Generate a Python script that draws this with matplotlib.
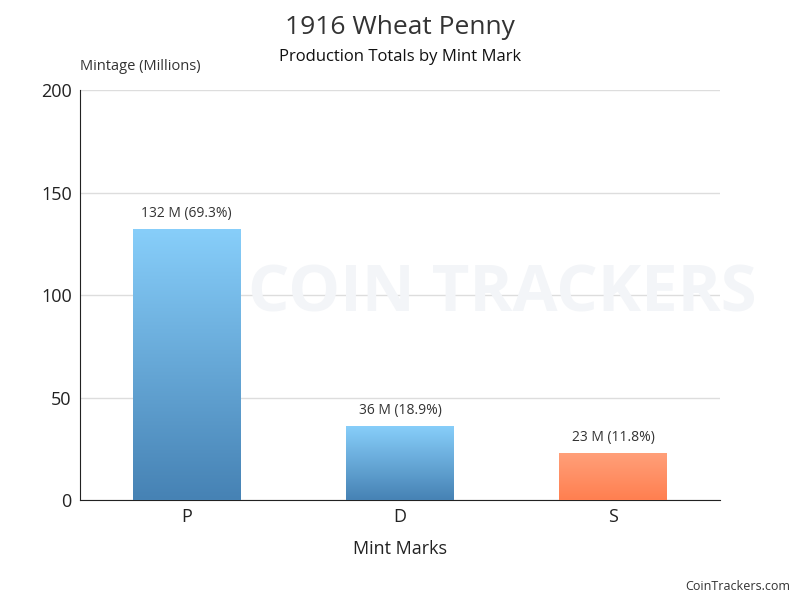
import matplotlib
matplotlib.use("Agg")
import matplotlib.pyplot as plt
import numpy as np
from matplotlib.colors import LinearSegmentedColormap

plt.rcParams['font.family'] = ['Open Sans', 'DejaVu Sans']

categories = ["P", "D", "S"]
values = [132, 36, 23]
labels = ["132 M (69.3%)", "36 M (18.9%)", "23 M (11.8%)"]
top_colors = ["#87CEFA", "#87CEFA", "#FFA07A"]
bottom_colors = ["#4682B4", "#4682B4", "#FF7F50"]

fig = plt.figure(figsize=(8, 6), dpi=100)
ax = fig.add_axes([0.1, 1 - 500/600, 0.8, 410/600])

# watermark
fig.text(0.31, 0.508, "COIN TRACKERS", fontsize=47, fontweight='bold', color='#f3f5f8',
         ha='left', va='center', zorder=0)

x = np.arange(len(categories))
bars = ax.bar(x, values, width=0.506, color='none', zorder=3)
ax.set_xlim(-0.5, len(categories) - 0.5)
ax.set_ylim(0, 200)

grad = np.linspace(0, 1, 256).reshape(-1, 1)
for bar, tc, bc, lab in zip(bars, top_colors, bottom_colors, labels):
    cmap = LinearSegmentedColormap.from_list("g", [bc, tc])
    x0, y0 = bar.get_x(), bar.get_y()
    w, h = bar.get_width(), bar.get_height()
    im = ax.imshow(grad, extent=[x0, x0 + w, y0, y0 + h], origin='lower',
                   cmap=cmap, aspect='auto', zorder=3)
    im.set_clip_path(bar)
    ax.text(x0 + w / 2, y0 + h + 4, lab, ha='center', va='bottom', fontsize=10, color='#333333')

ax.set_xlim(-0.5, len(categories) - 0.5)
ax.set_ylim(0, 200)
ax.set_yticks([0, 50, 100, 150, 200])
ax.set_xticks(x)
ax.set_xticklabels(categories)
ax.tick_params(axis='both', length=0, labelsize=13, colors='#222222', pad=6)
ax.yaxis.grid(True, color='#dddddd', linewidth=1)
ax.set_axisbelow(True)
for s in ['top', 'right']:
    ax.spines[s].set_visible(False)
ax.spines['left'].set_color('#222222')
ax.spines['bottom'].set_color('#222222')
ax.patch.set_alpha(0)

ax.set_xlabel("Mint Marks", fontsize=13, color='#222222', labelpad=10)
fig.text(0.1, 1 - 67/600, "Mintage (Millions)", fontsize=10.5, color='#333333', ha='left', va='center')

fig.text(0.5, 1 - 28/600, "1916 Wheat Penny", fontsize=19, color='#333333', ha='center', va='center')
fig.text(0.5, 1 - 57/600, "Production Totals by Mint Mark", fontsize=12, color='#111111', ha='center', va='center')
fig.text(0.988, 1 - 586/600, "CoinTrackers.com", fontsize=9, color='#333333', ha='right', va='center')

fig.savefig("out.png", dpi=100)
